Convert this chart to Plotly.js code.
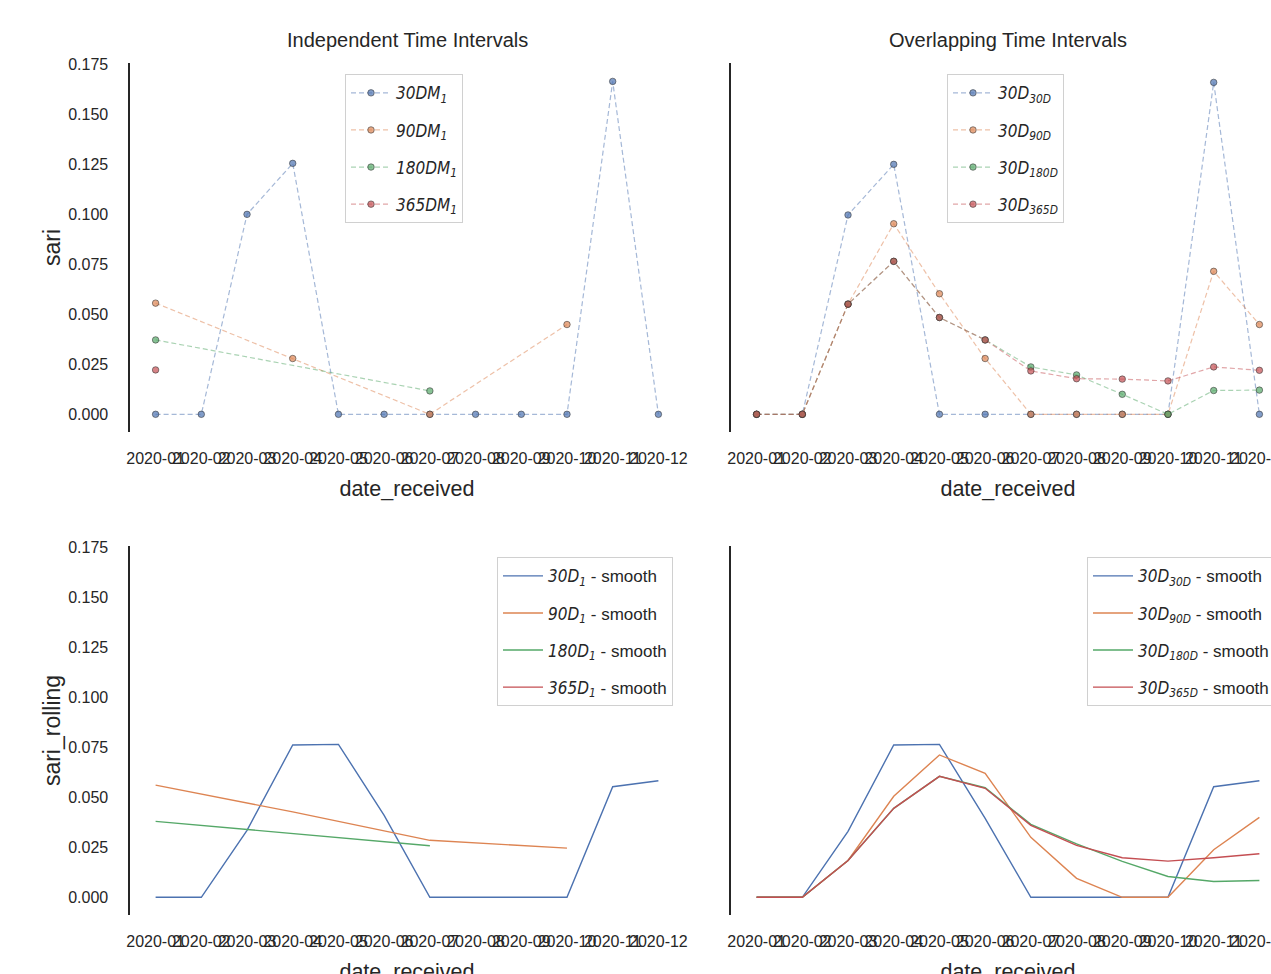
<!DOCTYPE html>
<html>
<head>
<meta charset="utf-8">
<script src="https://cdn.plot.ly/plotly-3.0.1.min.js"></script>
<style>
html,body{margin:0;padding:0;overflow:hidden;background:#fff;}
#chart{width:1300px;height:1000px;}
</style>
</head>
<body>
<div id="chart"></div>
<script>
// ---- data ----
const months = ["2020-01","2020-02","2020-03","2020-04","2020-05","2020-06","2020-07","2020-08","2020-09","2020-10","2020-11","2020-12"];

// Independent time intervals (top-left)
const ind30  = [0, 0, 0.100, 0.1255, 0, 0, 0, 0, 0, 0, 0.1665, 0];
const ind90  = [0.0556, null, null, 0.0279, null, null, 0, null, null, 0.0449, null, null];
const ind180 = [0.0372, null, null, null, null, null, 0.0117, null, null, null, null, null];
const ind365 = [0.0222, null, null, null, null, null, null, null, null, null, null, null];

// Overlapping time intervals (top-right)
const ovl30  = [0, 0, 0.0997, 0.125, 0, 0, 0, 0, 0, 0, 0.166, 0];
const ovl90  = [0, 0, 0.0551, 0.0953, 0.0603, 0.0279, 0, 0, 0, 0, 0.0715, 0.0449];
const ovl180 = [0, 0, 0.0551, 0.0765, 0.0484, 0.0372, 0.0237, 0.0197, 0.0100, 0, 0.0119, 0.0121];
const ovl365 = [0, 0, 0.0551, 0.0765, 0.0484, 0.0372, 0.0217, 0.0178, 0.0176, 0.0167, 0.0237, 0.0220];

// Rolling, independent (bottom-left)
const rInd30  = [0, 0, 0.0335, 0.0762, 0.0765, 0.041, 0, 0, 0, 0, 0.0553, 0.0583];
const rInd90  = [0.0561, null, null, 0.0427, null, null, 0.0285, null, null, 0.0246, null, null];
const rInd180 = [0.0380, null, null, null, null, null, 0.0258, null, null, null, null, null];
const rInd365 = [0.0222, null, null, null, null, null, null, null, null, null, null, null];

// Rolling, overlapping (bottom-right)
const rOvl30  = [0, 0, 0.033, 0.0762, 0.0765, 0.0395, 0, 0, 0, 0, 0.0553, 0.0583];
const rOvl90  = [0, 0, 0.0184, 0.0505, 0.0712, 0.0620, 0.0300, 0.0095, 0, 0, 0.0238, 0.0400];
const rOvl180 = [0, 0, 0.0184, 0.0445, 0.0605, 0.0548, 0.0365, 0.0267, 0.0180, 0.0104, 0.0079, 0.0084];
const rOvl365 = [0, 0, 0.0184, 0.0445, 0.0605, 0.0545, 0.0360, 0.0260, 0.0198, 0.0181, 0.0198, 0.0218];

const yTicks = [0, 0.025, 0.05, 0.075, 0.1, 0.125, 0.15, 0.175];

const labelsInd = ["30DM<sub>1</sub>","90DM<sub>1</sub>","180DM<sub>1</sub>","365DM<sub>1</sub>"];
const labelsOvl = ["30D<sub>30D</sub>","30D<sub>90D</sub>","30D<sub>180D</sub>","30D<sub>365D</sub>"];
const labelsRInd = ["30D<sub>1</sub>","90D<sub>1</sub>","180D<sub>1</sub>","365D<sub>1</sub>"];
const labelsROvl = ["30D<sub>30D</sub>","30D<sub>90D</sub>","30D<sub>180D</sub>","30D<sub>365D</sub>"];

// ---- style ----
const cols = [[76,114,176],[221,132,82],[85,168,104],[196,78,82]];
const rgba = (c,a)=>`rgba(${c[0]},${c[1]},${c[2]},${a})`;
const MATH = '"DejaVu Sans Condensed","DejaVu Sans"';
const TXT = '"Liberation Sans Narrow","Liberation Sans",Arial,sans-serif';

function dashed(vals, i, name, xa, ya, leg){
  return {x: months, y: vals, name: '<i>'+name+'</i>', xaxis: xa, yaxis: ya, legend: leg,
    legendgroup: leg+'_'+i, type:'scatter', mode:'lines+markers', connectgaps:true,
    line:{color: rgba(cols[i],0.5), width:1.2, dash:'5px,3px'},
    marker:{size:6.5, color: rgba(cols[i],0.7), line:{color:'rgba(50,50,50,0.55)', width:1}},
    hoverinfo:'skip'};
}
function solid(vals, i, name, xa, ya, leg){
  return {x: months, y: vals,
    name: '<i>'+name+'</i><span style="font-family:'+"'Liberation Sans'"+';font-style:normal"> - smooth</span>',
    xaxis: xa, yaxis: ya, legend: leg,
    legendgroup: leg+'_'+i, type:'scatter', mode:'lines', connectgaps:true,
    line:{color: rgba(cols[i],1), width:1.4}, hoverinfo:'skip'};
}

const traces = [];
[ind30,ind90,ind180,ind365].forEach((v,i)=>traces.push(dashed(v,i,labelsInd[i],'x','y','legend')));
[ovl30,ovl90,ovl180,ovl365].forEach((v,i)=>traces.push(dashed(v,i,labelsOvl[i],'x2','y2','legend2')));
[rInd30,rInd90,rInd180,rInd365].forEach((v,i)=>traces.push(solid(v,i,labelsRInd[i],'x3','y3','legend3')));
[rOvl30,rOvl90,rOvl180,rOvl365].forEach((v,i)=>traces.push(solid(v,i,labelsROvl[i],'x4','y4','legend4')));

const W = 1300, H = 1000;
const L = 130, R = 1285, T = 62.7, B = 914.7;
const pw = R-L, ph = B-T;
const px = v => (v-L)/pw;
const py = v => (B-v)/ph;

function xax(dom, anchor){
  return {domain: dom, anchor: anchor, type:'category', categoryorder:'array', categoryarray: months,
    range:[-0.56, 11.56], showgrid:false, zeroline:false, showline:false,
    ticks:'outside', ticklen:12, tickcolor:'rgba(0,0,0,0)',
    tickfont:{family:TXT, size:16, color:'#262626'}, tickangle:0,
    title:{text:'date_received', font:{family:TXT, size:21.5, color:'#262626'}, standoff:14}};
}
function yax(dom, anchor, labels, title){
  return {domain: dom, anchor: anchor, range:[-0.00885, 0.1757], showgrid:false, zeroline:false,
    showline:true, linecolor:'#262626', linewidth:1.6, mirror:false,
    tickvals: yTicks, tickformat:'.3f', showticklabels: labels,
    ticks: labels ? 'outside':'', ticklen:17, tickcolor:'rgba(0,0,0,0)',
    tickfont:{family:TXT, size:16, color:'#262626'},
    title:{text: title, font:{family:'"Liberation Sans",Arial,sans-serif', size:23, color:'#262626'}, standoff:1}};
}

const xL = [0, px(684)], xR = [px(731), 1];
const yTop = [py(431.7), 1], yBot = [0, py(545.7)];

function leg(x, y){
  return {x:x, y:y, xanchor:'left', yanchor:'top', xref:'paper', yref:'paper',
    bgcolor:'rgba(255,255,255,0.9)', bordercolor:'#d0d0d0', borderwidth:1,
    font:{family:MATH, size:17, color:'#262626'}, traceorder:'grouped', tracegroupgap:12,
    itemwidth:40};
}

const layout = {
  width: W, height: H, paper_bgcolor:'#fff', plot_bgcolor:'#fff',
  margin:{l:L, r:W-R, t:T, b:H-B, pad:0},
  showlegend:true,
  xaxis: xax(xL,'y'), yaxis: yax(yTop,'x',true,'sari'),
  xaxis2: xax(xR,'y2'), yaxis2: yax(yTop,'x2',false,''),
  xaxis3: xax(xL,'y3'), yaxis3: yax(yBot,'x3',true,'sari_rolling'),
  xaxis4: xax(xR,'y4'), yaxis4: yax(yBot,'x4',false,''),
  legend: leg(px(345), py(74)),
  legend2: leg(px(947), py(74)),
  legend3: leg(px(497), py(557)),
  legend4: leg(px(1087), py(557)),
  annotations:[
    {text:'Independent Time Intervals', xref:'paper', yref:'paper', x:(xL[0]+xL[1])/2, y:py(40), xanchor:'center', yanchor:'middle', showarrow:false, font:{family:TXT, size:20, color:'#262626'}},
    {text:'Overlapping Time Intervals', xref:'paper', yref:'paper', x:(xR[0]+xR[1])/2, y:py(40), xanchor:'center', yanchor:'middle', showarrow:false, font:{family:TXT, size:20, color:'#262626'}}
  ]
};

Plotly.newPlot('chart', traces, layout, {staticPlot:true, displayModeBar:false});
</script>
</body>
</html>
